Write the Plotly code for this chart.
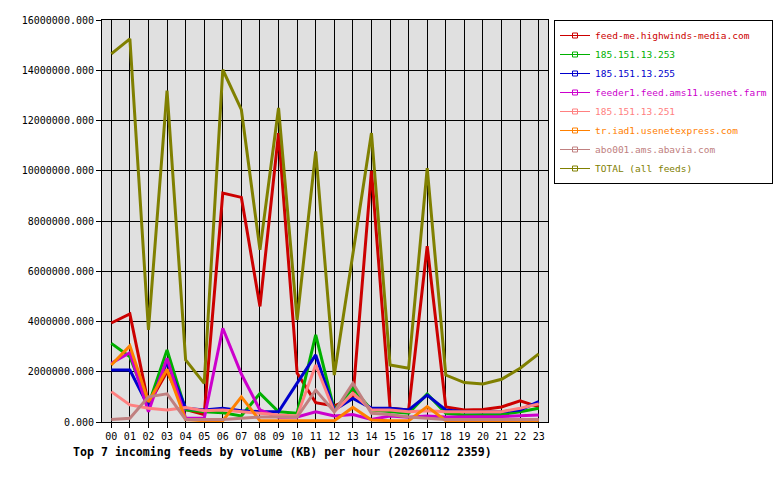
import plotly.graph_objects as go

hours = ["%02d" % h for h in range(24)]

feed_me = [3.94e6, 4.3e6, 0.7e6, 2.0e6, 0.5e6, 0.3e6, 9.11e6, 8.94e6, 4.6e6, 11.5e6,
           1.95e6, 0.77e6, 0.64e6, 0.95e6, 10.0e6, 0.55e6, 0.48e6, 7.0e6, 0.6e6, 0.48e6,
           0.5e6, 0.6e6, 0.84e6, 0.6e6]
ip_253 = [3.13e6, 2.6e6, 0.68e6, 2.87e6, 0.48e6, 0.41e6, 0.37e6, 0.24e6, 1.14e6, 0.41e6,
          0.35e6, 3.47e6, 0.48e6, 1.34e6, 0.48e6, 0.41e6, 0.35e6, 1.12e6, 0.35e6, 0.28e6,
          0.28e6, 0.3e6, 0.41e6, 0.55e6]
ip_255 = [2.07e6, 2.07e6, 0.61e6, 2.38e6, 0.55e6, 0.48e6, 0.55e6, 0.45e6, 0.41e6, 0.41e6,
          1.55e6, 2.67e6, 0.48e6, 0.94e6, 0.55e6, 0.55e6, 0.48e6, 1.07e6, 0.48e6, 0.41e6,
          0.41e6, 0.41e6, 0.48e6, 0.81e6]
feeder1 = [2.34e6, 2.76e6, 0.41e6, 2.54e6, 0.15e6, 0.15e6, 3.73e6, 1.91e6, 0.48e6, 0.19e6,
           0.2e6, 0.41e6, 0.24e6, 0.3e6, 0.1e6, 0.24e6, 0.19e6, 0.24e6, 0.2e6, 0.2e6,
           0.2e6, 0.22e6, 0.25e6, 0.28e6]
ip_251 = [1.21e6, 0.68e6, 0.55e6, 0.48e6, 0.58e6, 0.45e6, 0.48e6, 0.41e6, 0.35e6, 0.28e6,
          0.24e6, 2.27e6, 0.41e6, 1.14e6, 0.48e6, 0.48e6, 0.41e6, 0.45e6, 0.41e6, 0.41e6,
          0.41e6, 0.41e6, 0.55e6, 0.72e6]
tr_iad1 = [2.27e6, 3.03e6, 0.8e6, 2.1e6, 0.1e6, 0.05e6, 0.05e6, 1.0e6, 0.05e6, 0.05e6,
           0.05e6, 0.08e6, 0.05e6, 0.58e6, 0.08e6, 0.05e6, 0.05e6, 0.61e6, 0.05e6, 0.05e6,
           0.05e6, 0.05e6, 0.05e6, 0.05e6]
abo001 = [0.1e6, 0.15e6, 1.0e6, 1.12e6, 0.1e6, 0.1e6, 0.1e6, 0.15e6, 0.2e6, 0.2e6,
          0.2e6, 1.27e6, 0.41e6, 1.54e6, 0.35e6, 0.3e6, 0.2e6, 0.15e6, 0.1e6, 0.1e6,
          0.1e6, 0.1e6, 0.1e6, 0.1e6]
total = [14.65e6, 15.25e6, 3.67e6, 13.19e6, 2.47e6, 1.54e6, 14.02e6, 12.43e6, 6.85e6, 12.5e6,
         4.06e6, 10.77e6, 1.87e6, 6.6e6, 11.5e6, 2.27e6, 2.14e6, 10.1e6, 1.87e6, 1.57e6,
         1.51e6, 1.70e6, 2.14e6, 2.71e6]

names = ["feed-me.highwinds-media.com", "185.151.13.253", "185.151.13.255",
         "feeder1.feed.ams11.usenet.farm", "185.151.13.251", "tr.iad1.usenetexpress.com",
         "abo001.ams.abavia.com", "TOTAL (all feeds)"]
series = [feed_me, ip_253, ip_255, feeder1, ip_251, tr_iad1, abo001, total]
colors = ["#CC0000", "#00B000", "#0000CC", "#CC00CC", "#FF8080", "#FF8000", "#C08080", "#808000"]

FONT = "DejaVu Sans Mono"
fig = go.Figure()
for name, vals, col in zip(names, series, colors):
    fig.add_trace(go.Scatter(x=hours, y=vals, mode="lines", line=dict(color=col, width=3),
                             showlegend=False, hoverinfo="x+y"))
for name, col in zip(names, colors):
    fig.add_trace(go.Scatter(x=[None], y=[None], mode="lines+markers",
                             name='<span style="color:%s">%s</span>' % (col, name),
                             line=dict(color=col, width=1),
                             marker=dict(symbol="square-open", size=5, color=col, line=dict(width=1, color=col))))

fig.update_layout(
    width=780, height=480,
    margin=dict(l=102, r=232, t=20, b=58, autoexpand=False),
    paper_bgcolor="white", plot_bgcolor="#E0E0E0",
    font=dict(family=FONT, size=10, color="black"),
    title=dict(text="<b>Top 7 incoming feeds by volume (KB) per hour (20260112 2359)</b>",
               font=dict(family=FONT, size=11.6, color="black"),
               xref="container", yref="container", x=73/780, y=1-452/480,
               xanchor="left", yanchor="middle"),
    legend=dict(x=773/780, y=1-20/480, xref="container", yref="container",
                xanchor="right", yanchor="top",
                bgcolor="white", bordercolor="black", borderwidth=1,
                font=dict(family=FONT, size=9.5), itemwidth=30),
    showlegend=True,
)
fig.update_xaxes(type="category", range=[-0.5, 23.5], showgrid=True, gridcolor="black", gridwidth=1,
                 showline=True, linecolor="black", linewidth=1, mirror=True,
                 ticks="outside", ticklen=5, tickcolor="black", tickfont=dict(family=FONT, size=10),
                 zeroline=False)
fig.update_yaxes(range=[0, 16e6], dtick=2e6, tick0=0, tickformat=".3f", showgrid=True,
                 gridcolor="black", gridwidth=1, showline=True, linecolor="black", linewidth=1,
                 mirror=True, ticks="outside", ticklen=5, tickcolor="black",
                 tickfont=dict(family=FONT, size=10), zeroline=False)

fig.write_html("out.html")
